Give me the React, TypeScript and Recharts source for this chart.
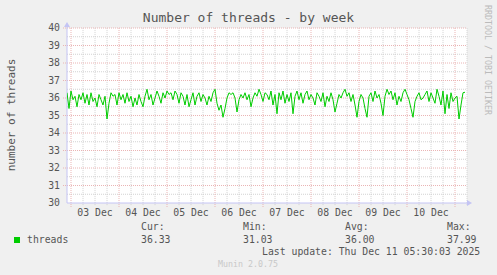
import { LineChart, Line, XAxis, YAxis, CartesianGrid, ReferenceLine } from 'recharts';

// hourly samples, starting 02 Dec 22:00
const threads = [
  36.3, 35.4, 36.4, 35.9, 36.1, 35.5, 36.2, 35.9, 36.3, 35.7,
  36.2, 35.6, 36.3, 35.8, 36.0, 35.5, 36.2, 35.9, 35.6, 36.1,
  34.8, 35.7, 36.3, 36.1, 36.2, 35.6, 36.3, 35.9, 36.2, 35.7,
  36.3, 35.8, 36.1, 35.5, 36.0, 35.6, 36.2, 35.8, 35.5, 36.1,
  36.5, 35.9, 36.2, 35.6, 36.0, 36.4, 36.1, 35.7, 36.3, 36.0,
  36.4, 36.2, 36.3, 35.9, 36.4, 36.2, 35.7, 36.3, 36.1, 35.6,
  36.2, 35.5, 35.9, 36.3, 35.6, 36.1, 36.3, 35.8, 36.2, 36.0,
  35.6, 36.1, 35.8, 36.3, 36.5, 35.7, 35.3, 35.6, 34.9, 35.4,
  36.0, 36.3, 36.2, 36.3, 36.0, 35.2, 35.9, 36.2, 36.0, 36.3,
  35.9, 36.2, 35.5, 36.0, 36.3, 36.1, 36.5, 36.2, 35.8, 36.3,
  36.2, 35.9, 36.4, 35.6, 36.2, 35.1, 36.3, 35.9, 36.4, 35.7,
  36.2, 35.8, 36.3, 35.1, 36.1, 36.4, 35.9, 36.3, 35.7, 36.2,
  36.4, 35.9, 36.2, 36.0, 35.6, 36.3, 36.1, 35.8, 36.3, 35.5,
  36.1, 35.8, 36.3, 35.9, 35.2, 35.7, 36.2, 36.0, 36.3, 36.5,
  36.1, 36.3, 35.8, 36.2, 35.6, 34.9, 35.8, 36.2, 36.0, 35.4,
  34.9, 36.1, 36.3, 35.8, 36.4, 36.0, 36.2, 35.7, 35.0, 36.1,
  36.5, 36.2, 36.4, 35.9, 36.3, 35.6, 36.1, 35.8, 36.3, 36.5,
  36.2, 35.9, 35.4, 34.9, 35.8, 36.1, 36.3, 35.9, 36.0, 36.2,
  36.4, 35.8, 36.3, 36.0, 35.7, 36.5, 36.1, 35.6, 36.4, 35.1,
  36.2, 35.4, 36.3, 35.8, 36.0, 36.1, 34.8, 35.6, 36.3, 36.33,
];

const dayLabels = ['03 Dec', '04 Dec', '05 Dec', '06 Dec', '07 Dec', '08 Dec', '09 Dec', '10 Dec'];
const dayNoonHours = [14, 38, 62, 86, 110, 134, 158, 182];
const dayStartHours = [2, 26, 50, 74, 98, 122, 146, 170, 194];
const sixHourMarks = [8, 14, 20, 32, 38, 44, 56, 62, 68, 80, 86, 92, 104, 110, 116, 128, 134, 140, 152, 158, 164, 176, 182, 188, 200];
const yTicks = [30, 31, 32, 33, 34, 35, 36, 37, 38, 39, 40];
const yHalfTicks = [30.5, 31.5, 32.5, 33.5, 34.5, 35.5, 36.5, 37.5, 38.5, 39.5];

const legendStats = [
  { label: 'Cur:', value: '36.33', left: 141 },
  { label: 'Min:', value: '31.03', left: 243 },
  { label: 'Avg:', value: '36.00', left: 345 },
  { label: 'Max:', value: '37.99', left: 447 },
];

const data = threads.map((v, i) => ({ h: i, threads: v }));

const mono = '"DejaVu Sans Mono", monospace';
const textColor = '#555';
const minorGrid = '#d2d2d2';
const majorGrid = '#eab4b4';
const arrowColor = '#c4c4f4';

const Arrow = (props: any) => {
  const { x1, y1, x2, y2 } = props;
  const dx = x2 - x1;
  const dy = y2 - y1;
  const len = Math.hypot(dx, dy) || 1;
  const ux = dx / len;
  const uy = dy / len;
  const bx = x2 - ux * 5;
  const by = y2 - uy * 5;
  const px = -uy * 3;
  const py = ux * 3;
  return (
    <g>
      <line x1={x1} y1={y1} x2={bx} y2={by} stroke={arrowColor} strokeWidth={1} />
      <polygon points={`${x2},${y2} ${bx + px},${by + py} ${bx - px},${by - py}`} fill={arrowColor} />
    </g>
  );
};

const abs = (left: number, top: number, extra: any = {}) => ({
  position: 'absolute' as const,
  left,
  top,
  fontFamily: mono,
  fontSize: 9.8,
  lineHeight: 1,
  color: textColor,
  whiteSpace: 'pre' as const,
  ...extra,
});

export default function App() {
  return (
    <div style={{ position: 'absolute', left: 0, top: 0, width: 497, height: 275, background: '#f0f0f0', overflow: 'hidden' }}>
      <LineChart width={497} height={275} data={data} margin={{ top: 28, right: 30, bottom: 52, left: 0 }}>
        <CartesianGrid horizontal={false} vertical={false} fill="#ffffff" />
        <XAxis
          dataKey="h"
          type="number"
          domain={[0, 200]}
          ticks={dayNoonHours}
          interval={0}
          tickFormatter={(v: number) => dayLabels[dayNoonHours.indexOf(v)] ?? ''}
          axisLine={false}
          tickLine={false}
          tickSize={4}
          tickMargin={2}
          height={20}
          tick={{ fill: textColor, fontSize: 9.8, fontFamily: mono }}
          allowDataOverflow
        />
        <YAxis
          type="number"
          domain={[30, 40]}
          ticks={yTicks}
          interval={0}
          axisLine={false}
          tickLine={false}
          tickSize={5}
          tickMargin={2}
          width={67}
          tick={{ fill: textColor, fontSize: 9.8, fontFamily: mono }}
          allowDataOverflow
        />
        {yHalfTicks.map((v) => (
          <ReferenceLine key={'yh' + v} segment={[{ x: 0, y: v }, { x: 200, y: v }]} stroke={minorGrid} strokeDasharray="1 1" ifOverflow="visible" />
        ))}
        {sixHourMarks.map((v) => (
          <ReferenceLine key={'xh' + v} segment={[{ x: v, y: 29.88 }, { x: v, y: 40 }]} stroke={minorGrid} strokeDasharray="1 1" ifOverflow="visible" />
        ))}
        {yTicks.slice(1).map((v) => (
          <ReferenceLine key={'ym' + v} segment={[{ x: -2, y: v }, { x: 200, y: v }]} stroke={majorGrid} strokeDasharray="1 1" ifOverflow="visible" />
        ))}
        {dayStartHours.map((v) => (
          <ReferenceLine key={'xm' + v} segment={[{ x: v, y: 29.77 }, { x: v, y: 40 }]} stroke={majorGrid} strokeDasharray="1 1" ifOverflow="visible" />
        ))}
        <ReferenceLine segment={[{ x: 0, y: 30 }, { x: 202.5, y: 30 }]} ifOverflow="visible" shape={Arrow} />
        <ReferenceLine segment={[{ x: 0, y: 30 }, { x: 0, y: 40.35 }]} ifOverflow="visible" shape={Arrow} />
        <Line type="linear" dataKey="threads" stroke="#00cc00" strokeWidth={1} dot={false} isAnimationActive={false} />
      </LineChart>

      <div style={abs(0, 11, { width: 497, textAlign: 'center', fontSize: 13 })}>Number of threads - by week</div>
      <div
        style={abs(11, 115, {
          fontSize: 11,
          transform: 'translate(-50%, -50%) rotate(-90deg)',
        })}
      >
        number of threads
      </div>
      <div
        style={abs(488, 60, {
          fontSize: 8.3,
          color: '#bbbbbb',
          transform: 'translate(-50%, -50%) rotate(90deg)',
        })}
      >
        RRDTOOL / TOBI OETIKER
      </div>

      <div style={{ position: 'absolute', left: 14, top: 237, width: 6, height: 6, background: '#00cc00' }} />
      <div style={abs(27, 235)}>threads</div>
      {legendStats.map((s) => (
        <div key={s.label}>
          <div style={abs(s.left, 222)}>{s.label}</div>
          <div style={abs(s.left, 235)}>{s.value}</div>
        </div>
      ))}
      <div style={abs(262, 247)}>Last update: Thu Dec 11 05:30:03 2025</div>
      <div style={abs(218, 260, { fontSize: 8.3, color: '#c8c8c8' })}>Munin 2.0.75</div>
    </div>
  );
}
